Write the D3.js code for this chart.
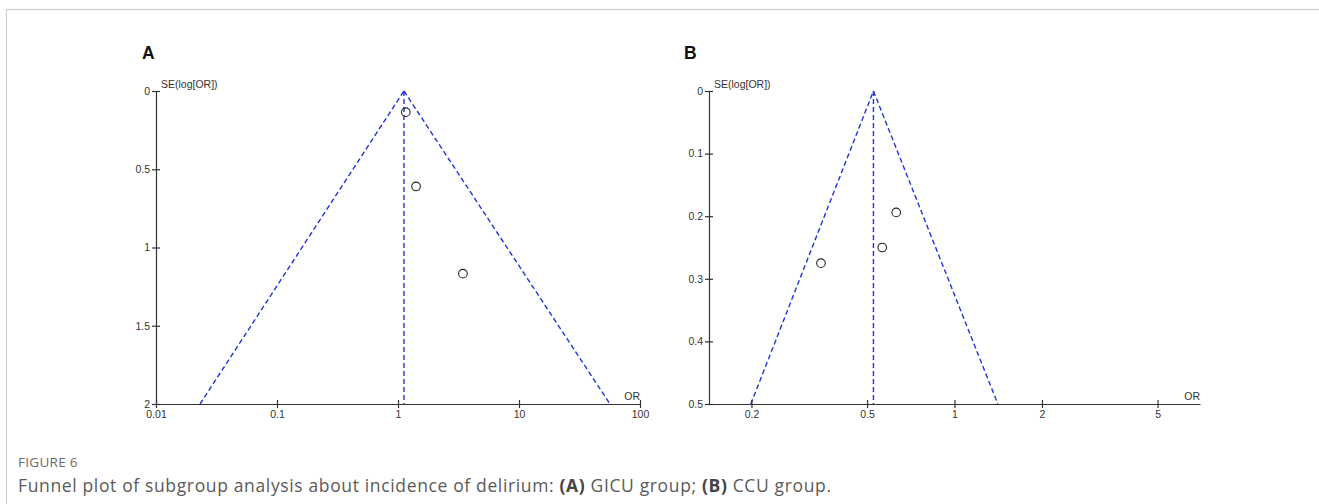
<!DOCTYPE html>
<html>
<head>
<meta charset="utf-8">
<script src="https://cdn.jsdelivr.net/npm/d3@7"></script>
<style>
  body { margin: 0; background: #fff; }
  .plot text { font-family: "Liberation Sans", Arial, sans-serif; }
  .caption { font-family: "Open Sans", sans-serif; }
</style>
</head>
<body>
<script>
// panel A (GICU)
var orA = [1.16, 1.41, 3.44];
var seA = [0.135, 0.61, 1.167];
var pooledA = 1.12;
var funnelA = [0.0231, 56.5];       // OR where funnel lines meet SE max
var xTicksA = [0.01, 0.1, 1, 10, 100];
var yTicksA = [0, 0.5, 1, 1.5, 2];

// panel B (CCU)
var orB = [0.63, 0.564, 0.347];
var seB = [0.194, 0.250, 0.275];
var pooledB = 0.526;
var funnelB = [0.199, 1.41];
var xTicksB = [0.2, 0.5, 1, 2, 5];
var yTicksB = [0, 0.1, 0.2, 0.3, 0.4, 0.5];

var svgWidth = 1319, svgHeight = 504;
var svg = d3.select("body").append("svg")
  .attr("width", svgWidth)
  .attr("height", svgHeight);

// card border
svg.append("rect")
  .attr("x", 6.5).attr("y", 9.5)
  .attr("width", svgWidth).attr("height", svgHeight)
  .attr("fill", "none").attr("stroke", "#cfcfcf").attr("stroke-width", 1.2);

function funnel(opt) {
  var g = svg.append("g").attr("class", "plot");
  var x = d3.scaleLog().domain(opt.xdom).range([opt.left, opt.right]);
  var y = d3.scaleLinear().domain([0, opt.seMax]).range([91, 404]);

  g.append("text")
    .attr("x", opt.labelX).attr("y", 59)
    .attr("font-size", 17.5).attr("font-weight", "bold")
    .attr("fill", "#111")
    .text(opt.label);

  // funnel + pooled line
  var blue = "#2233dd";
  var lines = [
    [opt.funnel[0], opt.seMax, opt.pooled, 0],
    [opt.pooled, 0, opt.funnel[1], opt.seMax],
    [opt.pooled, 0, opt.pooled, opt.seMax]
  ];
  g.selectAll("line.f").data(lines).enter().append("line")
    .attr("class", "f")
    .attr("x1", function(d){ return x(d[0]); })
    .attr("y1", function(d){ return y(d[1]); })
    .attr("x2", function(d){ return x(d[2]); })
    .attr("y2", function(d){ return y(d[3]); })
    .attr("stroke", blue).attr("stroke-width", 1.4)
    .attr("stroke-dasharray", "5,3");

  var xaxis = d3.axisBottom(x).tickValues(opt.xticks)
    .tickSizeOuter(0).tickSizeInner(4).tickPadding(3)
    .tickFormat(d3.format("~g"));
  g.append("g")
    .attr("transform", "translate(0,404)")
    .call(xaxis)
    .call(function(a){
      a.select(".domain").attr("stroke", "#333").attr("stroke-width", 1.2);
      a.selectAll(".tick line").attr("y1", -4).attr("y2", 4).attr("stroke", "#333").attr("stroke-width", 1.2);
      a.selectAll(".tick text").attr("font-size", 10.5).attr("fill", "#333");
    });

  var yaxis = d3.axisLeft(y).tickValues(opt.yticks)
    .tickSizeOuter(0).tickSizeInner(4).tickPadding(2)
    .tickFormat(d3.format("~g"));
  g.append("g")
    .attr("transform", "translate(" + opt.left + ",0)")
    .call(yaxis)
    .call(function(a){
      a.select(".domain").attr("stroke", "#333").attr("stroke-width", 1.2);
      a.selectAll(".tick line").attr("x1", -4).attr("x2", 4).attr("stroke", "#333").attr("stroke-width", 1.2);
      a.selectAll(".tick text").attr("font-size", 10.5).attr("fill", "#333");
    });

  g.append("text")
    .attr("x", opt.left + 5).attr("y", 88)
    .attr("font-size", 10.5).attr("fill", "#333")
    .text("SE(log[OR])");
  g.append("text")
    .attr("x", opt.right).attr("y", 400)
    .attr("text-anchor", "end")
    .attr("font-size", 10.5).attr("fill", "#333")
    .text("OR");

  g.selectAll("circle").data(opt.or).enter().append("circle")
    .attr("cx", function(d){ return x(d); })
    .attr("cy", function(d, i){ return y(opt.se[i]); })
    .attr("r", 4.3)
    .attr("fill", "none").attr("stroke", "#222").attr("stroke-width", 1.1);
}

funnel({ label: "A", labelX: 142, left: 156, right: 640, xdom: [0.01, 100], seMax: 2,
  xticks: xTicksA, yticks: yTicksA, or: orA, se: seA, pooled: pooledA, funnel: funnelA });
funnel({ label: "B", labelX: 684, left: 709, right: 1200, xdom: [1/7, 7], seMax: 0.5,
  xticks: xTicksB, yticks: yTicksB, or: orB, se: seB, pooled: pooledB, funnel: funnelB });

// caption
svg.append("text")
  .attr("class", "caption")
  .attr("x", 18).attr("y", 467)
  .attr("font-size", 13.5).attr("letter-spacing", 0.3).attr("fill", "#6a6a6a")
  .text("FIGURE 6");
var cap = svg.append("text")
  .attr("class", "caption")
  .attr("x", 18).attr("y", 492)
  .attr("font-size", 17.5).attr("letter-spacing", 0.64).attr("fill", "#5a5a5a");
cap.append("tspan").text("Funnel plot of subgroup analysis about incidence of delirium: ");
cap.append("tspan").attr("font-weight", "bold").attr("fill", "#444").text("(A)");
cap.append("tspan").text(" GICU group; ");
cap.append("tspan").attr("font-weight", "bold").attr("fill", "#444").text("(B)");
cap.append("tspan").text(" CCU group.");
</script>
</body>
</html>
